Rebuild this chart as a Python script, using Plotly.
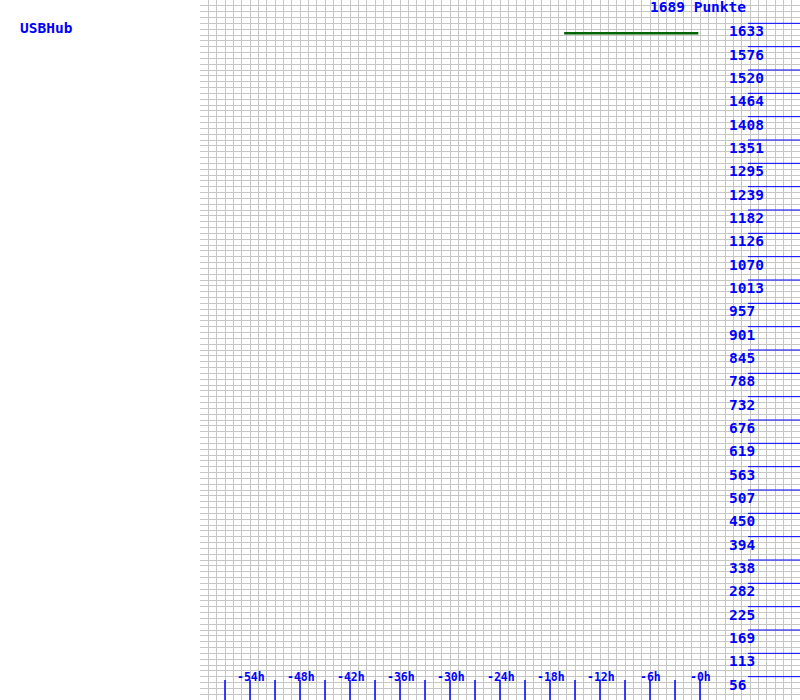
import plotly.graph_objects as go

# ---- data ----
title_text = "USBHub"
total_label = "1689 Punkte"
y_max = 1689
line_hours = [-16.3, -0.2]
line_values = [1609, 1609]
y_tick_values = [y_max * k / 30 for k in range(1, 30)]
y_tick_labels = ["56", "113", "169", "225", "282", "338", "394", "450", "507", "563",
                 "619", "676", "732", "788", "845", "901", "957", "1013", "1070", "1126",
                 "1182", "1239", "1295", "1351", "1408", "1464", "1520", "1576", "1633"]
x_tick_marks = list(range(-57, 1, 3))
x_label_hours = list(range(-54, 1, 6))
x_labels = [f"-{abs(h)}h" for h in x_label_hours]

BLUE = "#0000ff"
FONT = "DejaVu Sans Mono"
px_per_val = 700 / y_max   # pixels per unit value
px_per_hour = 600 / 72

fig = go.Figure()
fig.add_trace(go.Scatter(x=line_hours, y=line_values, mode="lines",
                         line=dict(color="#006400", width=2.5), hoverinfo="skip"))

shapes = []
annotations = []
x_line_start = -60 + (748 - 200) / px_per_hour
x_label = -60 + (727 - 200) / px_per_hour
for v, lab in zip(y_tick_values, y_tick_labels):
    shapes.append(dict(type="line", xref="x", yref="y", x0=x_line_start, x1=12, y0=v, y1=v,
                       line=dict(color=BLUE, width=1)))
    annotations.append(dict(x=x_label, y=v, xref="x", yref="y", text=lab, showarrow=False,
                            xanchor="left", yanchor="top", yshift=2,
                            font=dict(family=FONT, size=14.5, color=BLUE, weight="bold")))
for h in x_tick_marks:
    shapes.append(dict(type="line", xref="x", yref="y", x0=h, x1=h, y0=0, y1=20 / px_per_val,
                       line=dict(color=BLUE, width=1.5)))
for h, lab in zip(x_label_hours, x_labels):
    annotations.append(dict(x=h + 0.1, y=23 / px_per_val, xref="x", yref="y", text=lab, showarrow=False,
                            xanchor="center", yanchor="middle",
                            font=dict(family=FONT, size=11.5, color=BLUE, weight="bold")))
annotations.append(dict(x=-60 + (748 - 200) / px_per_hour, y=y_max, xref="x", yref="y", text=total_label,
                        showarrow=False, xanchor="right", yanchor="top", yshift=3,
                        font=dict(family=FONT, size=14.5, color=BLUE, weight="bold")))
annotations.append(dict(x=(18 - 200) / 600, y=1 - 28 / 700, xref="paper", yref="paper", text=title_text,
                        showarrow=False, xanchor="left", yanchor="middle",
                        font=dict(family=FONT, size=14.5, color=BLUE, weight="bold")))

fig.update_layout(
    width=800, height=700,
    margin=dict(l=200, r=0, t=0, b=0, pad=0),
    paper_bgcolor="white", plot_bgcolor="white",
    showlegend=False,
    shapes=shapes, annotations=annotations,
    xaxis=dict(range=[-60, 12], tick0=-60, dtick=1, showgrid=True, gridcolor="#c6c6c6", gridwidth=1,
               showticklabels=False, zeroline=False, showline=False, ticks=""),
    yaxis=dict(range=[0, y_max], tick0=0, dtick=y_max / 120, showgrid=True, gridcolor="#c6c6c6", gridwidth=1,
               showticklabels=False, zeroline=False, showline=False, ticks=""),
)
fig.write_html("out.html")
